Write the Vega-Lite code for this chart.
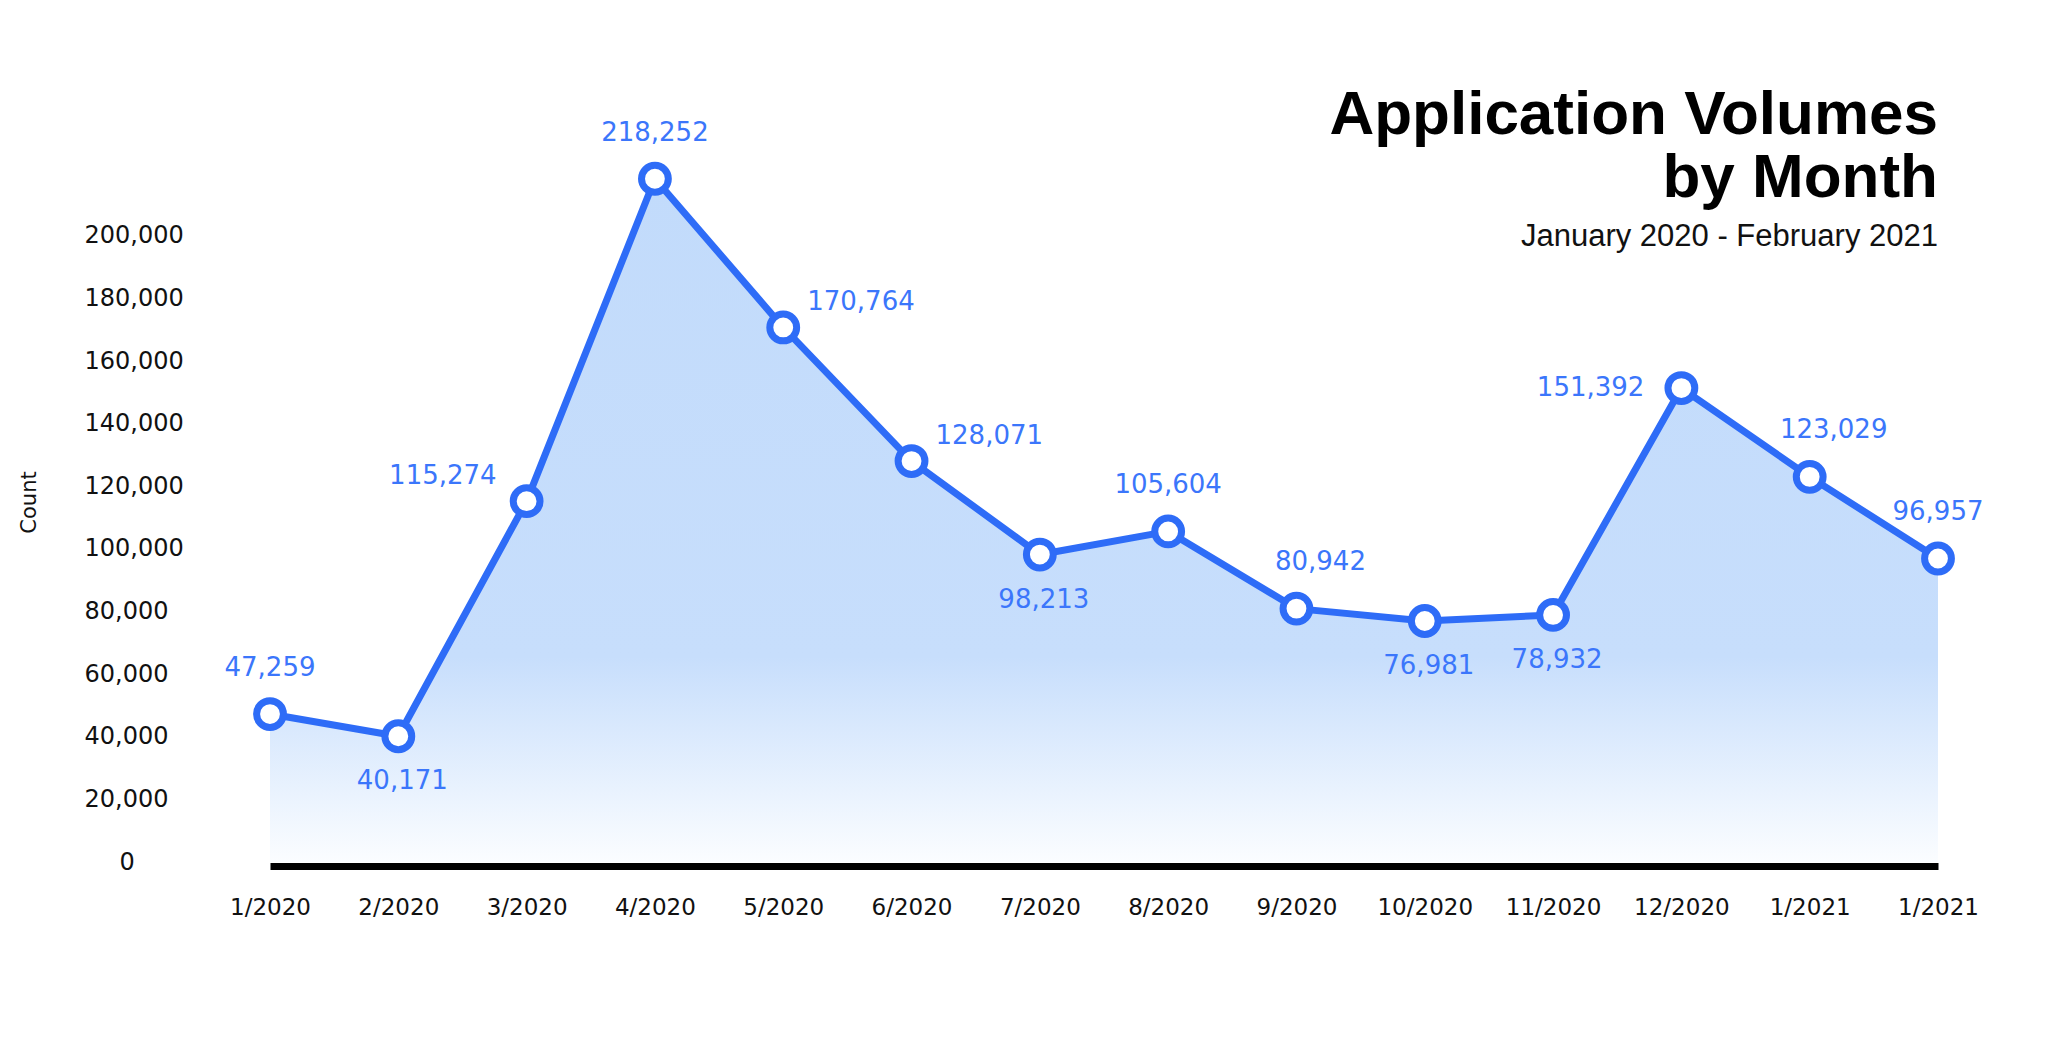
{
  "$schema": "https://vega.github.io/schema/vega-lite/v6.json",
  "autosize": "none",
  "width": 1668,
  "height": 720,
  "padding": {"left": 270, "top": 142, "right": 110, "bottom": 196},
  "background": "white",
  "config": {"view": {"stroke": null}},
  "title": {
    "text": ["Application Volumes", "by Month"],
    "subtitle": "January 2020 - February 2021",
    "anchor": "end",
    "frame": "group",
    "orient": "top",
    "offset": -133,
    "font": "Liberation Sans",
    "fontSize": 62,
    "fontWeight": "bold",
    "lineHeight": 63,
    "color": "#000000",
    "subtitleFont": "Liberation Sans",
    "subtitleFontSize": 31,
    "subtitleColor": "#111111",
    "subtitlePadding": 12
  },
  "data": {
    "values": [
      {"month": "1/2020", "value": 47259},
      {"month": "2/2020", "value": 40171},
      {"month": "3/2020", "value": 115274},
      {"month": "4/2020", "value": 218252},
      {"month": "5/2020", "value": 170764},
      {"month": "6/2020", "value": 128071},
      {"month": "7/2020", "value": 98213},
      {"month": "8/2020", "value": 105604},
      {"month": "9/2020", "value": 80942},
      {"month": "10/2020", "value": 76981},
      {"month": "11/2020", "value": 78932},
      {"month": "12/2020", "value": 151392},
      {"month": "1/2021", "value": 123029},
      {"month": "2/2021", "value": 96957}
    ]
  },
  "encoding": {
    "x": {
      "field": "month",
      "type": "ordinal",
      "sort": null,
      "scale": {"type": "point", "padding": 0},
      "axis": {
        "title": null,
        "offset": 4,
        "labelAngle": 0,
        "labelExpr": "datum.value == '2/2021' ? '1/2021' : datum.value",
        "labelFont": "DejaVu Sans",
        "labelFontSize": 23,
        "labelColor": "#111111",
        "labelPadding": 30,
        "ticks": false,
        "domain": true,
        "domainColor": "#000000",
        "domainWidth": 7,
        "domainCap": "butt",
        "grid": false
      }
    },
    "y": {
      "field": "value",
      "type": "quantitative",
      "scale": {"domain": [0, 230000], "nice": false},
      "axis": {
        "title": "Count",
        "titleFont": "DejaVu Sans",
        "titleFontSize": 21,
        "titleFontWeight": "normal",
        "titleColor": "#111111",
        "titlePadding": 45,
        "values": [0, 20000, 40000, 60000, 80000, 100000, 120000, 140000, 160000, 180000, 200000],
        "labelExpr": "format(datum.value, ',')",
        "labelFont": "DejaVu Sans",
        "labelFontSize": 24,
        "labelColor": "#111111",
        "labelAlign": "left",
        "labelBaseline": "middle",
        "labelPadding": {"condition": {"test": "datum.value == 0", "value": 151}, "value": 186},
        "ticks": false,
        "domain": false,
        "grid": false
      }
    }
  },
  "layer": [
    {
      "mark": {
        "type": "area",
        "line": false,
        "color": {
          "gradient": "linear",
          "x1": 0, "y1": 0, "x2": 0, "y2": 1,
          "stops": [
            {"offset": 0, "color": "#c2dbfb"},
            {"offset": 0.7, "color": "#c7defc"},
            {"offset": 1, "color": "#fbfdff"}
          ]
        }
      }
    },
    {
      "mark": {"type": "line", "color": "#2e6cf7", "strokeWidth": 7, "strokeJoin": "round"}
    },
    {
      "mark": {"type": "circle", "size": 720, "fill": "white", "stroke": "#2e6cf7", "strokeWidth": 7, "opacity": 1, "fillOpacity": 1}
    },
    {
      "transform": [{"filter": {"field": "month", "oneOf": ["1/2020", "4/2020", "8/2020", "2/2021"]}}],
      "mark": {"type": "text", "font": "DejaVu Sans", "fontSize": 26, "color": "#3b76fb", "align": "center", "baseline": "middle", "dy": -46},
      "encoding": {"text": {"field": "value", "type": "quantitative", "format": ","}}
    },
    {
      "transform": [{"filter": {"field": "month", "oneOf": ["9/2020", "1/2021"]}}],
      "mark": {"type": "text", "font": "DejaVu Sans", "fontSize": 26, "color": "#3b76fb", "align": "center", "baseline": "middle", "dx": 24, "dy": -47},
      "encoding": {"text": {"field": "value", "type": "quantitative", "format": ","}}
    },
    {
      "transform": [{"filter": {"field": "month", "oneOf": ["2/2020", "7/2020", "10/2020", "11/2020"]}}],
      "mark": {"type": "text", "font": "DejaVu Sans", "fontSize": 26, "color": "#3b76fb", "align": "center", "baseline": "middle", "dx": 4, "dy": 45},
      "encoding": {"text": {"field": "value", "type": "quantitative", "format": ","}}
    },
    {
      "transform": [{"filter": {"field": "month", "oneOf": ["3/2020"]}}],
      "mark": {"type": "text", "font": "DejaVu Sans", "fontSize": 26, "color": "#3b76fb", "align": "right", "baseline": "middle", "dx": -30, "dy": -25},
      "encoding": {"text": {"field": "value", "type": "quantitative", "format": ","}}
    },
    {
      "transform": [{"filter": {"field": "month", "oneOf": ["12/2020"]}}],
      "mark": {"type": "text", "font": "DejaVu Sans", "fontSize": 26, "color": "#3b76fb", "align": "right", "baseline": "middle", "dx": -37, "dy": 0},
      "encoding": {"text": {"field": "value", "type": "quantitative", "format": ","}}
    },
    {
      "transform": [{"filter": {"field": "month", "oneOf": ["5/2020", "6/2020"]}}],
      "mark": {"type": "text", "font": "DejaVu Sans", "fontSize": 26, "color": "#3b76fb", "align": "left", "baseline": "middle", "dx": 24, "dy": -25},
      "encoding": {"text": {"field": "value", "type": "quantitative", "format": ","}}
    }
  ]
}
